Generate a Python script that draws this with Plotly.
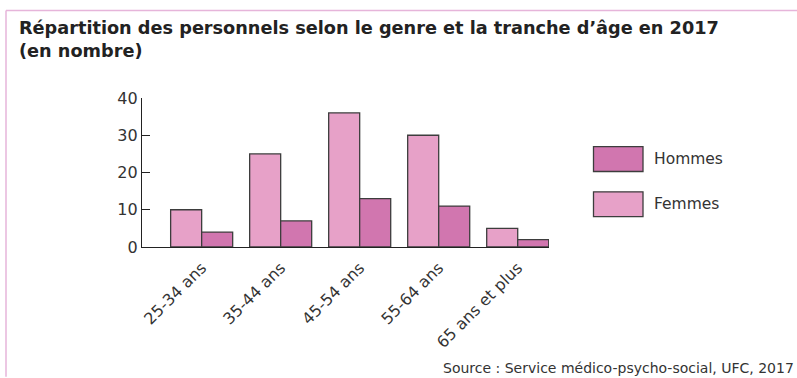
import plotly.graph_objects as go

# Data
categories = ["25-34 ans", "35-44 ans", "45-54 ans", "55-64 ans", "65 ans et plus"]
femmes = [10, 25, 36, 30, 5]
hommes = [4, 7, 13, 11, 2]
y_ticks = [0, 10, 20, 30, 40]

W, H = 797, 378
L, R, T, B = 142, 549, 97.5, 247.5  # plot area in pixels

def px(xp):
    return (xp - L) / (R - L)

def py(yp):
    return (B - yp) / (B - T)

C_F = "#E7A1C8"
C_H = "#D176AF"
EDGE = "#3d3d3d"
FONT = "DejaVu Sans, Arial, sans-serif"
TXT = "#333333"

fig = go.Figure()
fig.add_trace(go.Bar(x=list(range(len(categories))), y=femmes, name="Femmes",
                     marker=dict(color=C_F, line=dict(color=EDGE, width=1.3)),
                     showlegend=False))
fig.add_trace(go.Bar(x=list(range(len(categories))), y=hommes, name="Hommes",
                     marker=dict(color=C_H, line=dict(color=EDGE, width=1.3)),
                     showlegend=False))

shapes = []
annotations = []

# pink frame (top and left)
shapes.append(dict(type="line", xref="paper", yref="paper",
                   x0=px(6), x1=px(797), y0=py(9.5), y1=py(9.5),
                   line=dict(color="#E6B5DA", width=1.5)))
shapes.append(dict(type="line", xref="paper", yref="paper",
                   x0=px(6), x1=px(6), y0=py(9.5), y1=py(378),
                   line=dict(color="#E6B5DA", width=1.5)))

# legend boxes
for label, color, yc in [("Hommes", C_H, 159), ("Femmes", C_F, 204.5)]:
    shapes.append(dict(type="rect", xref="paper", yref="paper",
                       x0=px(593.5), x1=px(643), y0=py(yc - 12.5), y1=py(yc + 12.5),
                       fillcolor=color, line=dict(color=EDGE, width=1.3)))
    annotations.append(dict(text=label, xref="paper", yref="paper",
                            x=px(652), y=py(yc), xanchor="left", yanchor="middle",
                            showarrow=False, font=dict(family=FONT, size=15.5, color=TXT)))

# title
annotations.append(dict(text="<b>Répartition des personnels selon le genre et la tranche d’âge en 2017<br>(en nombre)</b>",
                        xref="paper", yref="paper", x=px(17), y=py(15),
                        xanchor="left", yanchor="top", align="left", showarrow=False,
                        font=dict(family=FONT, size=17.7, color="#222222")))

# source
annotations.append(dict(text="Source : Service médico-psycho-social, UFC, 2017",
                        xref="paper", yref="paper", x=px(441), y=py(369),
                        xanchor="left", yanchor="middle", showarrow=False,
                        font=dict(family=FONT, size=14, color=TXT)))

fig.update_layout(
    width=W, height=H,
    margin=dict(l=L, r=W - R, t=T, b=H - B, pad=0),
    paper_bgcolor="white", plot_bgcolor="white",
    barmode="group", bargap=0.215, bargroupgap=0,
    shapes=shapes, annotations=annotations,
    xaxis=dict(tickmode="array", tickvals=list(range(len(categories))), ticktext=categories,
               range=[-0.755, 4.396], showgrid=False, zeroline=False,
               showline=True, linecolor="#222222", linewidth=1.3,
               ticks="", tickangle=-45, ticklabelstandoff=4,
               tickfont=dict(family=FONT, size=16, color=TXT)),
    yaxis=dict(range=[0, 40], tickvals=y_ticks, showgrid=False, zeroline=False,
               showline=True, linecolor="#222222", linewidth=1.3,
               ticks="inside", ticklen=8, tickwidth=1.3, tickcolor="#222222",
               tickfont=dict(family=FONT, size=16, color=TXT)),
)

fig.write_html("out.html")
